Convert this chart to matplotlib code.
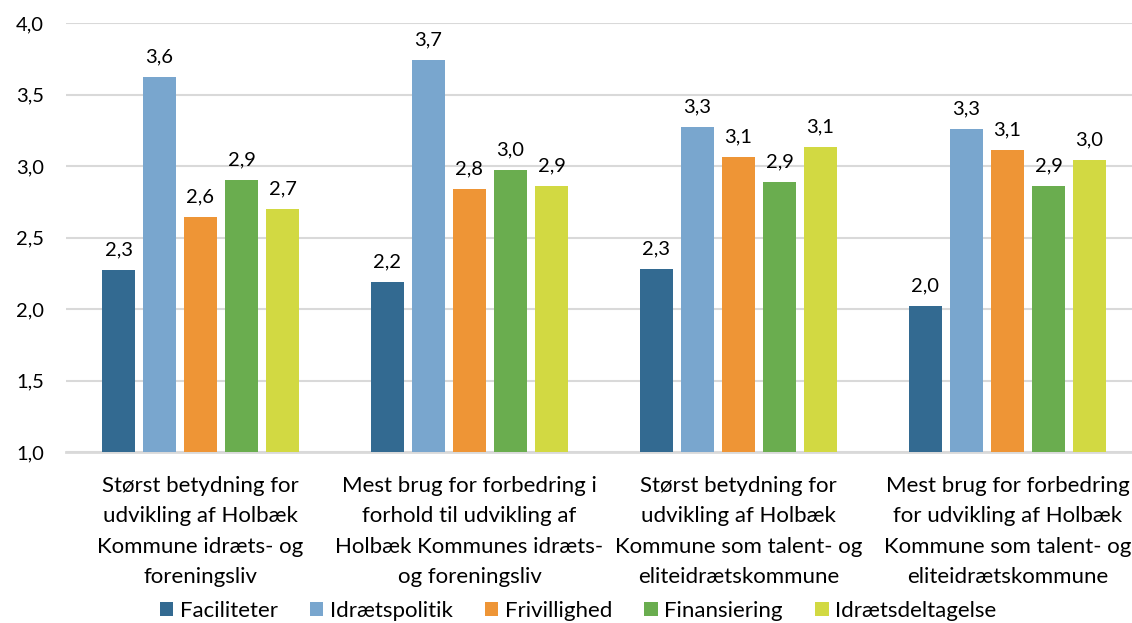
import matplotlib
matplotlib.use("Agg")
import matplotlib.pyplot as plt
import numpy as np

categories = [
    "Størst betydning for\nudvikling af Holbæk\nKommune idræts- og\nforeningsliv",
    "Mest brug for forbedring i\nforhold til udvikling af\nHolbæk Kommunes idræts-\nog foreningsliv",
    "Størst betydning for\nudvikling af Holbæk\nKommune som talent- og\neliteidrætskommune",
    "Mest brug for forbedring\nfor udvikling af Holbæk\nKommune som talent- og\neliteidrætskommune",
]
series_names = ["Faciliteter", "Idrætspolitik", "Frivillighed", "Finansiering", "Idrætsdeltagelse"]
faciliteter = [2.27, 2.19, 2.28, 2.02]
idraetspolitik = [3.62, 3.74, 3.27, 3.26]
frivillighed = [2.64, 2.84, 3.06, 3.11]
finansiering = [2.90, 2.97, 2.89, 2.86]
idraetsdeltagelse = [2.70, 2.86, 3.13, 3.04]
yticks = [1.0, 1.5, 2.0, 2.5, 3.0, 3.5, 4.0]

colors = ["#336A91", "#79A6CE", "#EE9536", "#6AAD4F", "#D2D942"]
series = [faciliteter, idraetspolitik, frivillighed, finansiering, idraetsdeltagelse]

plt.rcParams['font.family'] = ['Lato', 'DejaVu Sans']

fig = plt.figure(figsize=(11.32, 6.23), dpi=100)
W, H = 1132, 623
left, right, top, bottom = 66, 1132, 23, 452
ax = fig.add_axes([left / W, 1 - bottom / H, (right - left) / W, (bottom - top) / H])

x = np.arange(len(categories))
step = 0.1524
width = 0.1227
for i, (name, vals, c) in enumerate(zip(series_names, series, colors)):
    pos = x + (i - 2) * step
    ax.bar(pos, np.array(vals) - 1.0, bottom=1.0, width=width, color=c, label=name, zorder=3)
    for p, v in zip(pos, vals):
        ax.annotate(f"{v:.1f}".replace('.', ','), (p, v), xytext=(0, 8.5), textcoords='offset points',
                    ha='center', va='bottom', fontsize=14.5, color='#000000')

ax.set_ylim(1.0, 4.0)
ax.set_xlim(-0.5, 3.463)
ax.set_yticks(yticks)
ax.set_yticklabels([f"{t:.1f}".replace('.', ',') for t in yticks], fontsize=14.5)
ax.yaxis.grid(True, color='#D9D9D9', linewidth=1.5, zorder=0)
ax.set_axisbelow(True)
for s in ['top', 'right', 'left']:
    ax.spines[s].set_visible(False)
ax.spines['bottom'].set_color('#D9D9D9')
ax.spines['bottom'].set_linewidth(2)
ax.tick_params(axis='y', length=0, pad=16)
ax.tick_params(axis='x', length=0, pad=17)
ax.set_xticks(x)
ax.set_xticklabels(categories, fontsize=16, linespacing=1.66)

handles, labels = ax.get_legend_handles_labels()
fig.legend(handles, labels, loc='center', bbox_to_anchor=(578 / W, 1 - 611 / H), ncol=5,
           frameon=False, fontsize=16, handlelength=0.6, handleheight=0.6,
           columnspacing=1.45, handletextpad=0.3)

fig.savefig("out.png", dpi=100)
